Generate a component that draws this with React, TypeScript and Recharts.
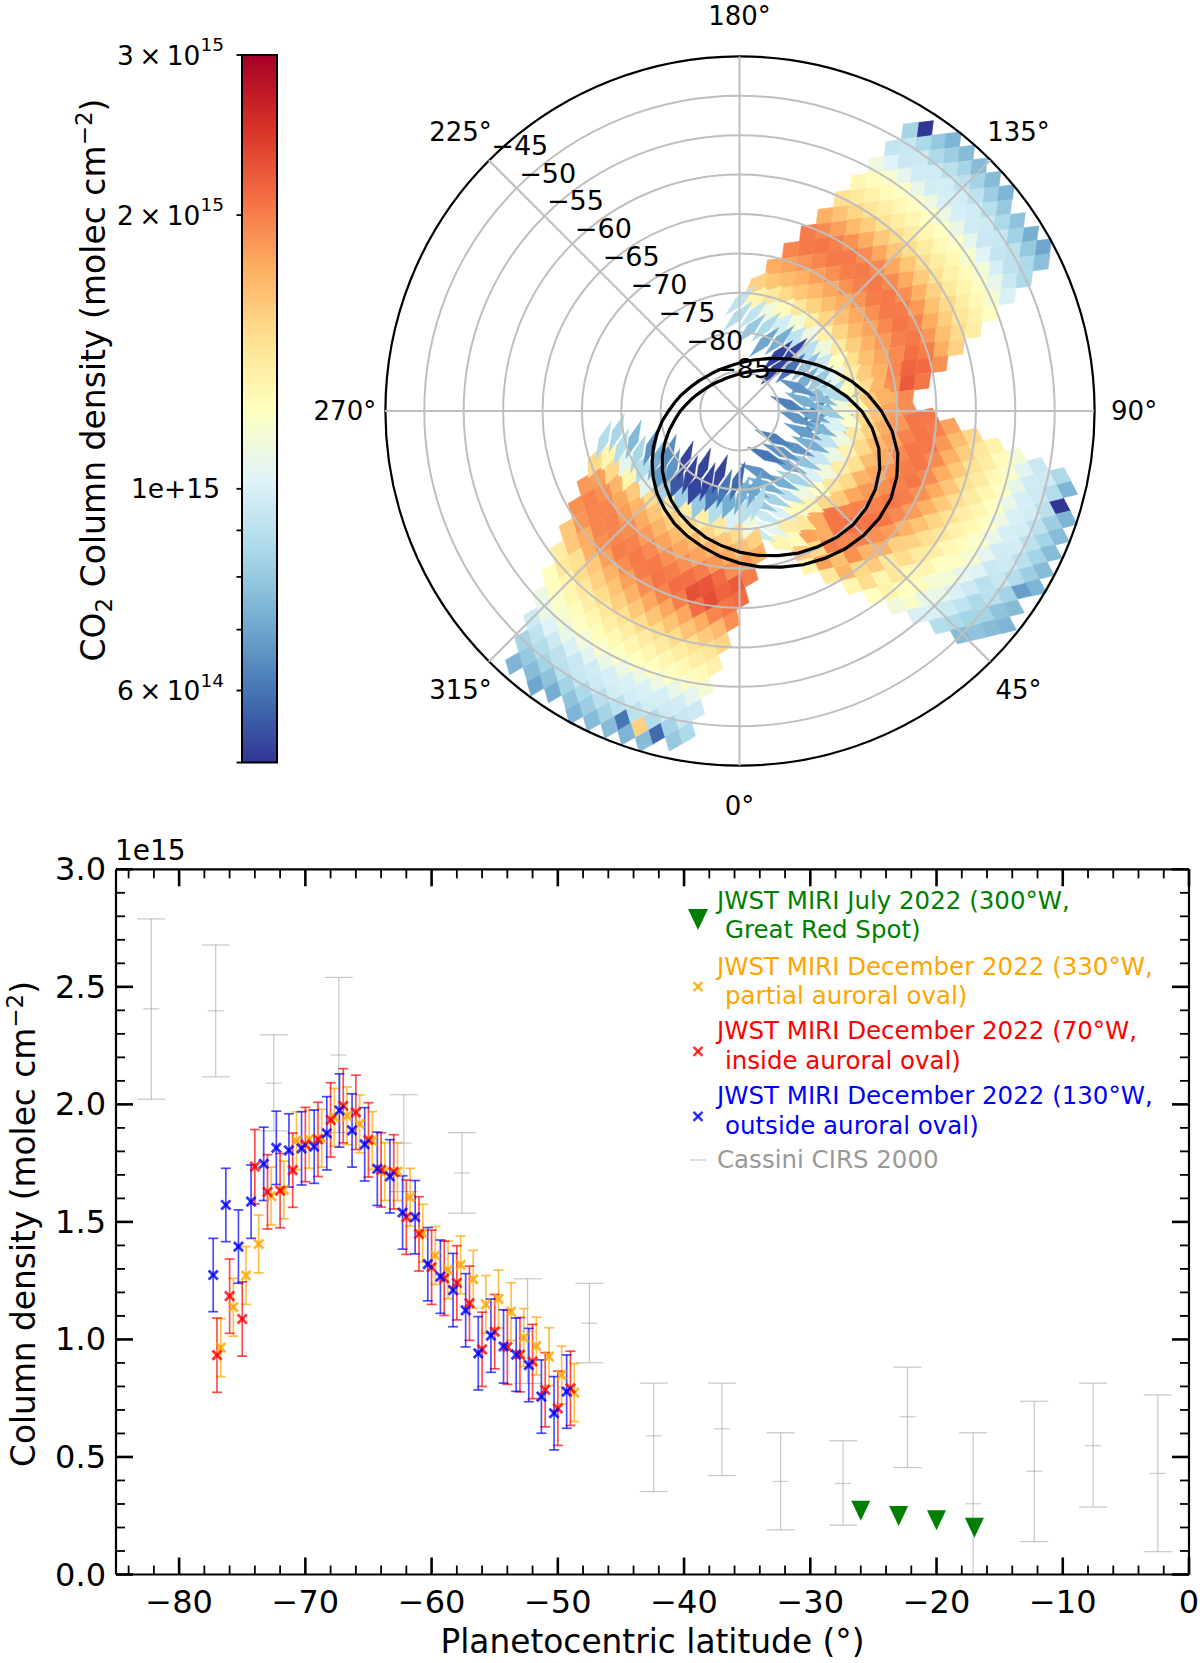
import {
  ErrorBar,
  Label,
  Legend,
  PolarAngleAxis,
  PolarGrid,
  PolarRadiusAxis,
  Radar,
  RadarChart,
  ReferenceArea,
  ReferenceDot,
  Scatter,
  ScatterChart,
  XAxis,
  YAxis,
} from "recharts";

const FONT = "'DejaVu Sans', sans-serif";

// ---- latitude profiles, column density in 1e15 molec cm-2 ----
const blueLat = [-77.3, -76.3, -75.3, -74.3, -73.3, -72.3, -71.3, -70.3, -69.3, -68.3, -67.3, -66.3, -65.3, -64.3, -63.3, -62.3, -61.3, -60.3, -59.3, -58.3, -57.3, -56.3, -55.3, -54.3, -53.3, -52.3, -51.3, -50.3, -49.3];
const blueVal = [1.274, 1.572, 1.395, 1.586, 1.747, 1.815, 1.804, 1.813, 1.82, 1.877, 1.974, 1.889, 1.83, 1.726, 1.694, 1.54, 1.52, 1.32, 1.267, 1.21, 1.124, 0.941, 1.016, 0.97, 0.935, 0.891, 0.757, 0.686, 0.778];
const redLat = [-77, -76, -75, -74, -73, -72, -71, -70, -69, -68, -67, -66, -65, -64, -63, -62, -61, -60, -59, -58, -57, -56, -55, -54, -53, -52, -51, -50, -49];
const redVal = [0.933, 1.184, 1.087, 1.735, 1.628, 1.633, 1.72, 1.829, 1.851, 1.934, 1.994, 1.966, 1.849, 1.721, 1.713, 1.52, 1.449, 1.307, 1.26, 1.241, 1.154, 0.958, 1.033, 0.967, 0.935, 0.906, 0.786, 0.707, 0.792];
const orangeLat = [-76.7, -75.7, -74.7, -73.7, -72.7, -71.7, -70.7, -69.7, -68.7, -67.7, -66.7, -65.7, -64.7, -63.7, -62.7, -61.7, -60.7, -59.7, -58.7, -57.7, -56.7, -55.7, -54.7, -53.7, -52.7, -51.7, -50.7, -49.7, -48.7];
const orangeVal = [0.965, 1.137, 1.272, 1.406, 1.61, 1.636, 1.845, 1.851, 1.856, 1.945, 1.951, 1.917, 1.846, 1.714, 1.714, 1.605, 1.452, 1.357, 1.296, 1.317, 1.256, 1.149, 1.172, 1.118, 1.008, 0.972, 0.927, 0.849, 0.774];
const blueErr = 0.156;
const redErr = 0.158;
const orangeErr = 0.123;

const cassiniLat = [-82.2, -77.1, -72.5, -67.35, -62.2, -57.6, -52.4, -47.5, -42.4, -37, -32.35, -27.4, -22.3, -17.1, -12.26, -7.6, -2.47];
const cassiniVal = [2.406, 2.398, 2.09, 2.21, 1.835, 1.708, 1.035, 1.069, 0.59, 0.62, 0.396, 0.387, 0.671, 0.301, 0.439, 0.548, 0.43];
const cassiniHigh = [2.789, 2.678, 2.296, 2.54, 2.041, 1.88, 1.258, 1.239, 0.814, 0.814, 0.603, 0.569, 0.882, 0.603, 0.737, 0.814, 0.764];
const cassiniLow = [2.022, 2.117, 1.887, 1.88, 1.629, 1.537, 0.813, 0.901, 0.353, 0.421, 0.19, 0.21, 0.455, 0.002, 0.14, 0.287, 0.097];

const grsLat = [-26, -23, -20, -17];
const grsVal = [0.275, 0.253, 0.235, 0.203];

const xTicks = [-84, -82, -80, -78, -76, -74, -72, -70, -68, -66, -64, -62, -60, -58, -56, -54, -52, -50, -48, -46, -44, -42, -40, -38, -36, -34, -32, -30, -28, -26, -24, -22, -20, -18, -16, -14, -12, -10, -8, -6, -4, -2, 0];
const yTicks = [0, 0.1, 0.2, 0.3, 0.4, 0.5, 0.6, 0.7, 0.8, 0.9, 1, 1.1, 1.2, 1.3, 1.4, 1.5, 1.6, 1.7, 1.8, 1.9, 2, 2.1, 2.2, 2.3, 2.4, 2.5, 2.6, 2.7, 2.8, 2.9, 3];

const legendEntries = [
  { color: "#008000", lines: ["JWST MIRI July 2022 (300°W,", "Great Red Spot)"], mark: "tri" },
  { color: "#ffa500", lines: ["JWST MIRI December 2022 (330°W,", "partial auroral oval)"], mark: "x" },
  { color: "#ff0000", lines: ["JWST MIRI December 2022 (70°W,", "inside auroral oval)"], mark: "x" },
  { color: "#0000ff", lines: ["JWST MIRI December 2022 (130°W,", "outside auroral oval)"], mark: "x" },
  { color: "#999999", lines: ["Cassini CIRS 2000"], mark: "dash" },
];

// ---- polar map ----
const lonLabels = ["0°", "45°", "90°", "135°", "180°", "225°", "270°", "315°"];
const ringLats = [-85, -80, -75, -70, -65, -60, -55, -50, -45];

// auroral ovals, latitude every 7.5° of longitude starting at 0°
const ovalOuter = [-70.7, -70.06, -69.5, -68.88, -68.4, -67.96, -67.7, -67.64, -67.8, -68.38, -69.2, -70.47, -72, -73.6, -75.3, -76.93, -78.4, -79.67, -80.7, -81.62, -82.3, -82.89, -83.3, -83.65, -83.9, -84.07, -84.2, -84.2, -84.15, -84.05, -83.9, -83.62, -83.3, -82.87, -82.3, -81.71, -81, -80.1, -79.2, -78.19, -77.2, -76.19, -75.2, -74.35, -73.5, -72.78, -72.1, -71.36];
const ovalInner = [-72.1, -71.51, -71, -70.48, -70.1, -69.77, -69.6, -69.73, -70.1, -70.74, -71.7, -73.01, -74.5, -76.22, -77.9, -79.35, -80.6, -81.76, -82.7, -83.45, -84, -84.49, -84.8, -85.1, -85.3, -85.43, -85.5, -85.51, -85.5, -85.37, -85.2, -84.99, -84.7, -84.31, -83.8, -83.23, -82.5, -81.74, -80.8, -79.78, -78.7, -77.65, -76.7, -75.74, -74.9, -74.13, -73.4, -72.74];

// distance from the pole along a swath (deg of latitude) and across it
const rowRho = [43.4, 40.4, 37.3, 34.3, 31.2, 28.2, 25.1, 22.1, 19, 16, 12.9, 9.9, 6.9];
const colAcross = [-11.8, -10.6, -9.4, -8.3, -7.1, -5.9, -4.7, -3.5, -2.4, -1.2, 0, 1.2, 2.4, 3.5, 4.7, 5.9, 7.1, 8.3, 9.4, 10.6, 11.8];
const oddColumnShift = 1.52;

// column density in 1e13 molec cm-2, 0 = no data
const swathA = [
  [0, 50, 0, 80, 74, 82, 76, 84, 76, 84, 76, 82, 74, 80, 0, 78, 0, 72, 0, 70, 0],
  [84, 94, 86, 96, 86, 97, 90, 98, 91, 98, 91, 97, 89, 96, 86, 94, 83, 91, 80, 86, 77],
  [93, 102, 95, 106, 97, 108, 98, 110, 99, 110, 99, 109, 97, 107, 95, 103, 93, 99, 91, 95, 86],
  [111, 124, 116, 126, 120, 128, 121, 129, 122, 129, 122, 128, 120, 127, 117, 125, 113, 121, 107, 115, 100],
  [129, 139, 132, 143, 135, 146, 136, 148, 137, 148, 137, 147, 136, 144, 133, 140, 130, 136, 127, 131, 122],
  [146, 162, 152, 168, 157, 175, 160, 178, 161, 178, 161, 177, 158, 172, 154, 164, 149, 157, 142, 149, 136],
  [174, 193, 182, 199, 189, 202, 193, 203, 194, 203, 194, 203, 191, 201, 185, 197, 176, 187, 165, 175, 155],
  [201, 202, 204, 196, 203, 191, 200, 189, 199, 188, 200, 190, 202, 194, 204, 199, 203, 208, 200, 212, 190],
  [196, 181, 188, 173, 182, 168, 178, 166, 176, 165, 177, 167, 180, 172, 185, 178, 193, 195, 215, 222, 205],
  [176, 161, 167, 150, 160, 140, 154, 135, 152, 133, 153, 138, 157, 146, 164, 157, 173, 169, 190, 177, 194],
  [154, 130, 140, 111, 125, 98, 114, 92, 110, 90, 111, 95, 122, 106, 135, 124, 148, 145, 150, 0, 0],
  [92, 88, 92, 80, 86, 70, 72, 52, 52, 60, 78, 72, 80, 78, 88, 72, 80, 66, 80, 0, 0],
  [0, 0, 0, 0, 0, 0, 0, 0, 52, 0, 0, 0, 0, 0, 62, 65, 70, 72, 75, 0, 0],
];
const swathB = [
  [0, 74, 0, 50, 74, 82, 76, 84, 76, 84, 76, 82, 74, 68, 0, 76, 0, 74, 0, 0, 0],
  [86, 96, 88, 96, 90, 98, 91, 98, 91, 98, 90, 96, 88, 94, 84, 90, 78, 84, 76, 78, 0],
  [95, 104, 97, 107, 99, 108, 100, 110, 99, 108, 97, 106, 95, 102, 90, 96, 86, 92, 84, 86, 76],
  [114, 125, 118, 127, 121, 129, 122, 129, 121, 127, 118, 124, 115, 120, 106, 114, 100, 108, 96, 100, 88],
  [132, 141, 135, 145, 138, 146, 138, 147, 135, 144, 132, 140, 128, 135, 122, 130, 115, 124, 108, 118, 100],
  [150, 166, 156, 172, 160, 176, 161, 176, 158, 172, 152, 162, 146, 154, 138, 148, 128, 140, 122, 132, 112],
  [180, 198, 186, 202, 192, 204, 194, 204, 190, 200, 184, 194, 172, 184, 155, 172, 140, 158, 130, 148, 122],
  [204, 204, 205, 198, 204, 194, 200, 190, 198, 190, 204, 198, 204, 205, 190, 198, 170, 190, 150, 170, 130],
  [192, 180, 186, 174, 180, 168, 176, 166, 178, 170, 186, 178, 198, 196, 208, 205, 195, 200, 165, 182, 140],
  [172, 158, 162, 148, 155, 140, 150, 132, 146, 135, 150, 140, 158, 150, 205, 175, 175, 180, 150, 160, 130],
  [0, 0, 128, 112, 118, 100, 110, 92, 108, 94, 112, 100, 122, 110, 130, 125, 140, 135, 125, 130, 0],
  [0, 0, 88, 76, 80, 70, 74, 68, 72, 66, 78, 70, 84, 72, 90, 84, 100, 95, 105, 95, 0],
  [0, 0, 0, 66, 72, 62, 66, 0, 0, 62, 66, 60, 0, 66, 72, 70, 80, 0, 0, 0, 0],
];
const swathC = [
  [0, 80, 0, 58, 76, 155, 74, 60, 76, 84, 76, 82, 74, 78, 0, 72, 0, 70, 0, 0, 0],
  [86, 94, 84, 96, 88, 98, 91, 98, 91, 98, 90, 96, 86, 94, 84, 90, 78, 84, 76, 80, 74],
  [96, 106, 98, 108, 99, 110, 100, 110, 100, 110, 99, 108, 97, 105, 94, 100, 91, 96, 88, 92, 84],
  [115, 126, 119, 128, 121, 129, 122, 129, 122, 129, 121, 127, 118, 124, 113, 120, 108, 115, 102, 108, 96],
  [133, 142, 136, 146, 137, 148, 138, 148, 138, 148, 136, 145, 134, 140, 130, 136, 125, 130, 118, 124, 110],
  [152, 168, 158, 175, 162, 178, 162, 178, 162, 178, 160, 172, 155, 163, 148, 155, 140, 148, 130, 140, 122],
  [190, 205, 196, 230, 210, 228, 200, 210, 196, 205, 192, 200, 182, 192, 172, 182, 160, 172, 145, 160, 135],
  [210, 222, 216, 210, 225, 200, 208, 190, 200, 190, 202, 194, 203, 198, 200, 195, 190, 196, 175, 188, 160],
  [200, 186, 192, 176, 186, 170, 180, 167, 178, 166, 180, 170, 184, 176, 192, 184, 198, 195, 195, 198, 190],
  [175, 155, 165, 148, 158, 138, 152, 134, 150, 134, 155, 140, 160, 148, 170, 158, 178, 170, 190, 182, 185],
  [0, 0, 112, 90, 100, 72, 88, 60, 80, 52, 82, 55, 84, 68, 105, 88, 130, 105, 150, 130, 150],
  [0, 0, 88, 70, 72, 58, 60, 52, 52, 52, 52, 52, 66, 64, 72, 66, 85, 75, 88, 85, 88],
  [0, 0, 0, 0, 0, 0, 0, 0, 0, 0, 0, 0, 0, 0, 0, 0, 0, 0, 0, 0, 0],
];
const swathLon = [135, 65.7, 338.2];
const swathShift = [1.9, 2.6, 2.9];

const colorStops = ["#313695", "#4575b4", "#74add1", "#abd9e9", "#e0f3f8", "#ffffbf", "#fee090", "#fdae61", "#f46d43", "#d73027", "#a50026"];
const colorbarTicks = [5e14, 6e14, 7e14, 8e14, 9e14, 1e15, 2e15, 3e15];

const hex = (c: string) => [1, 3, 5].map((i) => parseInt(c.slice(i, i + 2), 16));

function colorOf(v: number) {
  const t = Math.max(0, Math.min(1, Math.log(v / 50) / Math.log(6))) * 10;
  const i = Math.min(9, Math.floor(t));
  const a = hex(colorStops[i]);
  const b = hex(colorStops[i + 1]);
  const rgb = a.map((p, k) => Math.round(p + (b[k] - p) * (t - i)));
  return `rgb(${rgb.join(",")})`;
}

function buildCells(table: number[][], lon: number, shift: number) {
  const rad = (lon * Math.PI) / 180;
  const ax = Math.sin(rad);
  const ay = Math.cos(rad);
  const cells: any[] = [];
  table.forEach((row, r) => {
    row.forEach((v, c) => {
      if (!v) return;
      const along = rowRho[r] - (c % 2 ? oddColumnShift : 0);
      const across = colAcross[c] + shift;
      const dx = along * ax - across * ay;
      const dy = along * ay + across * ax;
      cells.push({ x: dx, y: -dy, v, r, ax, ay });
    });
  });
  return cells;
}

const cellsA = buildCells(swathA, swathLon[0], swathShift[0]);
const cellsB = buildCells(swathB, swathLon[1], swathShift[1]);
const cellsC = buildCells(swathC, swathLon[2], swathShift[2]);

function MeshCell(props: any) {
  const { cx, cy, payload } = props;
  const { ax, ay, r, v } = payload;
  const hl = r >= 11 ? 21 : r === 10 ? 17 : 12;
  const hw = r >= 11 ? 5 : r === 10 ? 7.5 : 9.3;
  const pts = [
    [cx + ax * hl, cy + ay * hl],
    [cx - ay * hw, cy + ax * hw],
    [cx - ax * hl, cy - ay * hl],
    [cx + ay * hw, cy - ax * hw],
  ];
  const fill = colorOf(v);
  return <polygon points={pts.map((p) => p.join(",")).join(" ")} fill={fill} stroke={fill} strokeWidth={r >= 10 ? 0.3 : 0.7} />;
}

const ringData = lonLabels.map((lon) => ({ lon }));
const ovalData = ovalOuter.map((outer, i) => ({ lon: i * 7.5, outer, inner: ovalInner[i] }));

const POLAR_CX = 739.5;
const POLAR_CY = 411;
const POLAR_R = 354.6;

function LonTick({ x, y, payload }: any) {
  return (
    <text x={x} y={y} textAnchor="middle" dominantBaseline="central" fontSize={26} fontFamily={FONT} fill="#000">
      {payload.value}
    </text>
  );
}

function LatTick({ x, y, payload }: any) {
  return (
    <text x={x + 31} y={y - 15} textAnchor="middle" dominantBaseline="central" fontSize={27} fontFamily={FONT} fill="#000">
      {String(payload.value).replace("-", "−")}
    </text>
  );
}

function PolarMap() {
  return (
    <>
      <div style={{ position: "absolute", left: POLAR_CX - 365, top: POLAR_CY - 365 }}>
        <ScatterChart width={730} height={730} margin={{ top: 0, right: 0, bottom: 0, left: 0 }}>
          <XAxis type="number" dataKey="x" domain={[-46.32, 46.32]} hide allowDataOverflow />
          <YAxis type="number" dataKey="y" domain={[-46.32, 46.32]} hide allowDataOverflow />
          <Scatter data={cellsA} shape={MeshCell} isAnimationActive={false} />
          <Scatter data={cellsB} shape={MeshCell} isAnimationActive={false} />
          <Scatter data={cellsC} shape={MeshCell} isAnimationActive={false} />
          <ReferenceDot x={0} y={0} r={POLAR_R} fill="none" stroke="#000" strokeWidth={2.2} />
        </ScatterChart>
      </div>
      <div style={{ position: "absolute", left: 0, top: 0 }}>
        <RadarChart width={1200} height={830} cx={POLAR_CX} cy={POLAR_CY} outerRadius={POLAR_R} startAngle={-45} endAngle={315} data={ringData}>
          <PolarGrid
            gridType="circle"
            stroke="#bfbfbf"
            strokeWidth={2}
            polarRadius={ringLats.slice(0, -1).map((lat) => ((lat + 90) * POLAR_R) / 45)}
          />
          <PolarAngleAxis dataKey="lon" tick={LonTick} tickLine={false} axisLine={false} tickSize={40} />
        </RadarChart>
      </div>
      <div style={{ position: "absolute", left: 0, top: 0 }}>
        <RadarChart width={1200} height={830} cx={POLAR_CX} cy={POLAR_CY} outerRadius={POLAR_R} startAngle={-97.5} endAngle={262.5} data={ovalData}>
          <PolarAngleAxis dataKey="lon" tick={false} tickLine={false} axisLine={false} />
          <PolarRadiusAxis angle={135} type="number" domain={[-90, -45]} ticks={ringLats} tick={LatTick} tickLine={false} axisLine={false} />
          <Radar dataKey="outer" stroke="#000" strokeWidth={3.2} fill="none" dot={false} isAnimationActive={false} />
          <Radar dataKey="inner" stroke="#000" strokeWidth={3.2} fill="none" dot={false} isAnimationActive={false} />
        </RadarChart>
      </div>
    </>
  );
}

function ColorbarTick({ x, y, payload }: any) {
  const v = payload.value;
  const labels: Record<number, [string, string]> = {
    3e15: ["3\u2009×\u200910", "15"],
    2e15: ["2\u2009×\u200910", "15"],
    6e14: ["6\u2009×\u200910", "14"],
  };
  const lab = labels[v];
  return (
    <g>
      <line x1={x} x2={x - 5.5} y1={y} y2={y} stroke="#000" strokeWidth={1.8} />
      {v === 1e15 && (
        <text x={220} y={y} textAnchor="end" dominantBaseline="central" fontSize={26.5} fontFamily={FONT}>
          1e+15
        </text>
      )}
      {lab && (
        <text x={224} y={y} textAnchor="end" dominantBaseline="central" fontSize={26.5} fontFamily={FONT}>
          {lab[0]}
          <tspan dy={-11} fontSize={18.5}>
            {lab[1]}
          </tspan>
        </text>
      )}
    </g>
  );
}

function ColorbarTitle() {
  return (
    <text transform="translate(105,380) rotate(-90)" textAnchor="middle" fontSize={33} fontFamily={FONT} fill="#000">
      CO
      <tspan dy={7} fontSize={23}>
        2
      </tspan>
      <tspan dy={-7}> Column density (molec cm</tspan>
      <tspan dy={-13} fontSize={23}>
        −2
      </tspan>
      <tspan dy={13}>)</tspan>
    </text>
  );
}

const colorbarData = colorbarTicks.map((y) => ({ x: 0.5, y }));

function Colorbar() {
  return (
    <div style={{ position: "absolute", left: 0, top: 0 }}>
      <ScatterChart width={300} height={800} margin={{ top: 55, right: 23, bottom: 37.5, left: 0 }}>
        <defs>
          <linearGradient id="rdylbu" x1="0" y1="1" x2="0" y2="0">
            {colorStops.map((c, i) => (
              <stop key={c} offset={`${i * 10}%`} stopColor={c} />
            ))}
          </linearGradient>
        </defs>
        <XAxis type="number" dataKey="x" domain={[0, 1]} hide />
        <YAxis
          type="number"
          dataKey="y"
          scale="log"
          domain={[5e14, 3e15]}
          ticks={colorbarTicks}
          interval={0}
          width={242}
          axisLine={false}
          tickLine={false}
          tickSize={0}
          tickMargin={0}
          tick={ColorbarTick}
          allowDataOverflow
        >
          <Label content={ColorbarTitle} />
        </YAxis>
        <Scatter data={colorbarData} shape={() => <g />} isAnimationActive={false} />
        <ReferenceArea x1={0} x2={1} y1={5e14} y2={3e15} fill="url(#rdylbu)" fillOpacity={1} stroke="#000" strokeWidth={2} />
      </ScatterChart>
    </div>
  );
}

const profile = (lats: number[], vals: number[], err: number) => lats.map((lat, i) => ({ lat, val: vals[i], err }));
const blueData = profile(blueLat, blueVal, blueErr);
const redData = profile(redLat, redVal, redErr);
const orangeData = profile(orangeLat, orangeVal, orangeErr);
const grsData = grsLat.map((lat, i) => ({ lat, val: grsVal[i] }));
const cassiniData = cassiniLat.map((lat, i) => ({
  lat,
  val: cassiniVal[i],
  err: [cassiniVal[i] - cassiniLow[i], cassiniHigh[i] - cassiniVal[i]],
}));

const BottomTick = ({ x, y, payload }: any) => {
  const major = payload.value % 10 === 0;
  return (
    <g>
      <line x1={x} x2={x} y1={y} y2={y - (major ? 17 : 9)} stroke="#000" strokeWidth={major ? 2.6 : 1.8} />
      {major && (
        <text x={x} y={y + 38} textAnchor="middle" fontSize={32} fontFamily={FONT} fill="#000">
          {String(payload.value).replace("-", "−")}
        </text>
      )}
    </g>
  );
};
const TopTick = ({ x, y, payload }: any) => {
  const major = payload.value % 10 === 0;
  return <line x1={x} x2={x} y1={y} y2={y + (major ? 17 : 9)} stroke="#000" strokeWidth={major ? 2.6 : 1.8} />;
};
const isMajorY = (v: number) => Math.abs(v * 2 - Math.round(v * 2)) < 1e-6;
const LeftTick = ({ x, y, payload }: any) => {
  const major = isMajorY(payload.value);
  return (
    <g>
      <line x1={x} x2={x + (major ? 17 : 9)} y1={y} y2={y} stroke="#000" strokeWidth={major ? 2.6 : 1.8} />
      {major && (
        <text x={x - 10} y={y} textAnchor="end" dominantBaseline="central" fontSize={32} fontFamily={FONT} fill="#000">
          {payload.value.toFixed(1)}
        </text>
      )}
    </g>
  );
};
const RightTick = ({ x, y, payload }: any) => {
  const major = isMajorY(payload.value);
  return <line x1={x} x2={x - (major ? 17 : 9)} y1={y} y2={y} stroke="#000" strokeWidth={major ? 2.6 : 1.8} />;
};

const XMark = (color: string) => (props: any) => {
  const { cx, cy } = props;
  const s = 4.6;
  return (
    <g stroke={color} strokeWidth={2.8} strokeOpacity={0.8}>
      <line x1={cx - s} x2={cx + s} y1={cy - s} y2={cy + s} />
      <line x1={cx - s} x2={cx + s} y1={cy + s} y2={cy - s} />
    </g>
  );
};
const Triangle = (props: any) => {
  const { cx, cy } = props;
  return <polygon points={`${cx - 9.5},${cy - 9} ${cx + 9.5},${cy - 9} ${cx},${cy + 11}`} fill="#008000" />;
};
const Dash = (props: any) => {
  const { cx, cy } = props;
  return <line x1={cx - 8} x2={cx + 8} y1={cy} y2={cy} stroke="#999" strokeOpacity={0.5} strokeWidth={1.2} />;
};

// y positions of the legend block, relative to the lower chart
const legendRows = [80, 145.6, 210.4, 275.3, 330];

function ProfileLegend() {
  return (
    <svg width={1200} height={833} style={{ display: "block" }}>
      {legendEntries.map((e, i) => {
        const top = legendRows[i];
        return (
          <g key={e.color}>
            {e.mark === "tri" && <polygon points={`688,${top - 1} 708,${top - 1} 698,${top + 20}`} fill={e.color} />}
            {e.mark === "x" && (
              <g stroke={e.color} strokeWidth={2.6} strokeOpacity={0.8}>
                <line x1={693.5} x2={702.5} y1={top + 11 - 4.5} y2={top + 11 + 4.5} />
                <line x1={693.5} x2={702.5} y1={top + 11 + 4.5} y2={top + 11 - 4.5} />
              </g>
            )}
            {e.mark === "dash" && <line x1={690} x2={706} y1={top} y2={top} stroke={e.color} strokeOpacity={0.5} strokeWidth={1.2} />}
            {e.lines.map((t, k) => (
              <text
                key={t}
                x={k === 0 ? 717 : 725}
                y={e.lines.length === 1 ? top + 8 : top - 1 + k * 29.3}
                fontSize={24.5}
                fontFamily={FONT}
                fill={e.color}
              >
                {t}
              </text>
            ))}
          </g>
        );
      })}
    </svg>
  );
}

function ProfileTitle() {
  return (
    <text transform="translate(35,394) rotate(-90)" textAnchor="middle" fontSize={32.8} fontFamily={FONT} fill="#000">
      Column density (molec cm
      <tspan dy={-12} fontSize={23}>
        −2
      </tspan>
      <tspan dy={12}>)</tspan>
    </text>
  );
}

function ProfilePanel() {
  const errStyle = { strokeOpacity: 0.7, strokeWidth: 1.7 };
  return (
    <div style={{ position: "absolute", left: 0, top: 830 }}>
      <ScatterChart width={1200} height={833} margin={{ top: 38.3, right: 10, bottom: 0, left: 0 }}>
        <XAxis
          xAxisId="bottom"
          type="number"
          dataKey="lat"
          domain={[-85, 0]}
          ticks={xTicks}
          interval={0}
          height={88.5}
          allowDataOverflow
          tick={BottomTick}
          tickLine={false}
          tickSize={0}
          tickMargin={0}
          axisLine={{ stroke: "#000", strokeWidth: 2.2 }}
        >
          <Label value="Planetocentric latitude (°)" position="insideBottom" offset={10} fontSize={32.8} fontFamily={FONT} fill="#000" />
        </XAxis>
        <XAxis
          xAxisId="top"
          orientation="top"
          type="number"
          dataKey="lat"
          domain={[-85, 0]}
          ticks={xTicks}
          interval={0}
          height={1}
          allowDataOverflow
          tick={TopTick}
          tickLine={false}
          tickSize={0}
          tickMargin={0}
          axisLine={{ stroke: "#000", strokeWidth: 2.2 }}
        />
        <YAxis
          yAxisId="left"
          type="number"
          dataKey="val"
          domain={[0, 3]}
          ticks={yTicks}
          interval={0}
          width={116}
          allowDataOverflow
          tick={LeftTick}
          tickLine={false}
          tickSize={0}
          tickMargin={0}
          axisLine={{ stroke: "#000", strokeWidth: 2.2 }}
        >
          <Label content={ProfileTitle} />
        </YAxis>
        <YAxis
          yAxisId="right"
          orientation="right"
          type="number"
          dataKey="val"
          domain={[0, 3]}
          ticks={yTicks}
          interval={0}
          width={1}
          allowDataOverflow
          tick={RightTick}
          tickLine={false}
          tickSize={0}
          tickMargin={0}
          axisLine={{ stroke: "#000", strokeWidth: 2.2 }}
        />
        <Legend layout="vertical" align="center" verticalAlign="middle" content={ProfileLegend} wrapperStyle={{ left: 0, top: 0, width: 1200, height: 833, pointerEvents: "none" }} />
        <Scatter data={cassiniData} xAxisId="bottom" yAxisId="left" shape={Dash} isAnimationActive={false}>
          <ErrorBar dataKey="err" direction="y" width={14} stroke="#999" strokeOpacity={0.55} strokeWidth={1.2} isAnimationActive={false} />
        </Scatter>
        <Scatter data={grsData} xAxisId="bottom" yAxisId="left" shape={Triangle} isAnimationActive={false} />
        <Scatter data={orangeData} xAxisId="bottom" yAxisId="left" shape={XMark("#ffa500")} isAnimationActive={false}>
          <ErrorBar dataKey="err" direction="y" width={5} stroke="#ffa500" {...errStyle} isAnimationActive={false} />
        </Scatter>
        <Scatter data={redData} xAxisId="bottom" yAxisId="left" shape={XMark("#ff0000")} isAnimationActive={false}>
          <ErrorBar dataKey="err" direction="y" width={5} stroke="#ff0000" {...errStyle} isAnimationActive={false} />
        </Scatter>
        <Scatter data={blueData} xAxisId="bottom" yAxisId="left" shape={XMark("#0000ff")} isAnimationActive={false}>
          <ErrorBar dataKey="err" direction="y" width={5} stroke="#0000ff" {...errStyle} isAnimationActive={false} />
        </Scatter>
      </ScatterChart>
      <div style={{ position: "absolute", left: 115, top: 5, fontSize: 28, fontFamily: FONT, lineHeight: "32px" }}>1e15</div>
    </div>
  );
}

export default function App() {
  return (
    <div style={{ position: "absolute", left: 0, top: 0, width: 1200, height: 1663, background: "#fff", overflow: "hidden" }}>
      <PolarMap />
      <Colorbar />
      <ProfilePanel />
    </div>
  );
}
